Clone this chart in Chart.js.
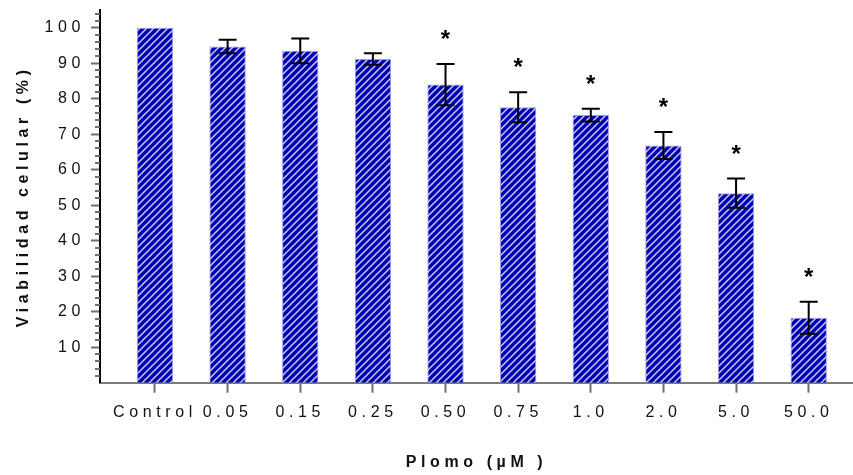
<!DOCTYPE html>
<html>
<head>
<meta charset="utf-8">
<script src="https://cdn.jsdelivr.net/npm/chart.js@4.4.1/dist/chart.umd.min.js"></script>
<style>
  html, body { margin: 0; padding: 0; background: #fff; }
  #chart { display: block; }
</style>
</head>
<body>
<canvas id="chart" width="853" height="475"></canvas>
<script>
// ── Data ──────────────────────────────────────────────────
const categories  = ["Control", "0.05", "0.15", "0.25", "0.50", "0.75", "1.0", "2.0", "5.0", "50.0"];
const viability   = [100, 94.7, 93.5, 91.2, 84.0, 77.6, 75.4, 66.8, 53.4, 18.3];
const errors      = [0, 1.9, 3.5, 1.6, 5.8, 4.2, 1.8, 3.8, 4.1, 4.5];
const significant = [false, false, false, false, true, true, true, true, true, true];
const yTickValues = [10, 20, 30, 40, 50, 60, 70, 80, 90, 100];
const yMinorStep  = 2;

// ── Style ─────────────────────────────────────────────────
const FONT       = "'Liberation Sans', Arial, sans-serif";
const BAR_BLUE   = "#0000bb";
const STRIPE     = "#c9c9dc";
const TICK_GREY  = "#6e6e6e";
const TEXT       = "#111";
const SPACING    = "4.6px";

function makeHatch(ctx) {
  const size = 7;
  const c = document.createElement("canvas");
  c.width = size; c.height = size;
  const g = c.getContext("2d");
  g.fillStyle = BAR_BLUE;
  g.fillRect(0, 0, size, size);
  g.strokeStyle = STRIPE;
  g.lineWidth = 1.5;
  g.beginPath();
  g.moveTo(-1, size + 1); g.lineTo(size + 1, -1);
  g.moveTo(-1, 1);        g.lineTo(1, -1);
  g.moveTo(size - 1, size + 1); g.lineTo(size + 1, size - 1);
  g.stroke();
  return ctx.createPattern(c, "repeat");
}

// ── Extras: letter spacing, minor ticks, error bars, stars ─
const extras = {
  id: "extras",
  beforeUpdate(chart) { chart.ctx.letterSpacing = SPACING; },
  beforeDraw(chart)   { chart.ctx.letterSpacing = SPACING; },
  afterDatasetsDraw(chart) {
    const { ctx, scales: { x, y } } = chart;
    ctx.save();
    ctx.letterSpacing = "0px";
    ctx.strokeStyle = "#000";
    ctx.lineWidth = 2;
    viability.forEach((v, i) => {
      const px = x.getPixelForValue(i);
      if (errors[i] > 0) {
        const top = y.getPixelForValue(v + errors[i]);
        const bot = y.getPixelForValue(v - errors[i]);
        ctx.beginPath();
        ctx.moveTo(px, top); ctx.lineTo(px, bot);
        ctx.moveTo(px - 9, top); ctx.lineTo(px + 9, top);
        ctx.moveTo(px - 9, bot); ctx.lineTo(px + 9, bot);
        ctx.stroke();
      }
      if (significant[i]) {
        const top = y.getPixelForValue(v + errors[i]);
        ctx.fillStyle = "#000";
        ctx.font = `bold 24px ${FONT}`;
        ctx.textAlign = "center";
        ctx.textBaseline = "alphabetic";
        ctx.fillText("*", px, top - 17);
      }
    });
    // minor ticks on the y axis
    ctx.strokeStyle = TICK_GREY;
    ctx.lineWidth = 2;
    for (let v = yMinorStep; v < y.max; v += yMinorStep) {
      if (v % 10 === 0) continue;
      const py = Math.round(y.getPixelForValue(v));
      ctx.beginPath();
      ctx.moveTo(x.left - 5, py); ctx.lineTo(x.left, py);
      ctx.stroke();
    }
    ctx.restore();
  },
};

const canvas = document.getElementById("chart");
const hatch = makeHatch(canvas.getContext("2d"));

new Chart(canvas, {
  type: "bar",
  data: {
    datasets: [{
      data: viability.map((v, i) => ({ x: i, y: v })),
      backgroundColor: hatch,
      borderColor: "#9a9aee",
      borderWidth: 1,
      barPercentage: 0.5,
      categoryPercentage: 1,
    }],
  },
  options: {
    responsive: false,
    animation: false,
    layout: { padding: { top: 10, left: 0, right: 0, bottom: 0 } },
    plugins: { legend: { display: false }, tooltip: { enabled: false } },
    scales: {
      x: {
        type: "linear",
        offset: false,
        min: -0.757,
        max: 9.61,
        afterBuildTicks: s => { s.ticks = categories.map((_, i) => ({ value: i })); },
        afterFit: s => { s.height = 92.3; s.paddingLeft = 0; s.paddingRight = 0; },
        ticks: {
          autoSkip: false,
          maxRotation: 0,
          padding: 10,
          color: TEXT,
          font: { family: FONT, size: 16 },
          callback: v => categories[v],
        },
        grid: {
          offset: false,
          drawOnChartArea: false,
          tickLength: 10,
          tickColor: TICK_GREY,
          tickWidth: 2,
        },
        border: { color: "#7a7a7a", width: 2 },
        title: {
          display: true,
          text: "Plomo (µM )",
          color: TEXT,
          font: { family: FONT, size: 16, weight: "bold" },
          padding: { top: 0, bottom: 3 },
        },
      },
      y: {
        min: 0,
        max: 105,
        afterBuildTicks: s => { s.ticks = yTickValues.map(v => ({ value: v })); },
        afterFit: s => { s.width = 100; s.paddingTop = 0; s.paddingBottom = 0; },
        ticks: {
          padding: 6,
          color: TEXT,
          font: { family: FONT, size: 16 },
          callback: v => String(v),
        },
        grid: {
          drawOnChartArea: false,
          tickLength: 9,
          tickColor: TICK_GREY,
          tickWidth: 2,
        },
        border: { color: "#000", width: 2 },
        title: {
          display: true,
          text: "Viabilidad celular (%)",
          color: TEXT,
          font: { family: FONT, size: 16, weight: "bold" },
          padding: { top: 14, bottom: 0 },
        },
      },
    },
  },
  plugins: [extras],
});
</script>
</body>
</html>
